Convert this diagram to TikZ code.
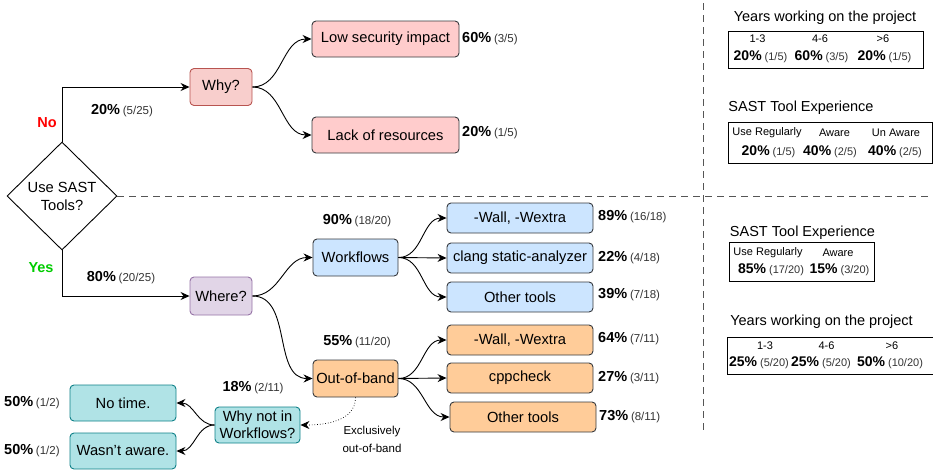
\documentclass[tikz,border=0pt]{standalone}
\usepackage{fontspec}
\setmainfont{Liberation Sans}
\usetikzlibrary{arrows.meta,shapes.geometric}
\definecolor{redfill}{HTML}{F8CECC}
\definecolor{redline}{HTML}{B85450}
\definecolor{pinkfill}{HTML}{FFCCCC}
\definecolor{boxline}{HTML}{36393D}
\definecolor{purfill}{HTML}{E1D5E7}
\definecolor{purline}{HTML}{9673A6}
\definecolor{bluefill}{HTML}{CCE5FF}
\definecolor{orfill}{HTML}{FFCC99}
\definecolor{tealfill}{HTML}{B0E3E6}
\definecolor{tealline}{HTML}{0E8088}
\definecolor{dashgray}{HTML}{555555}
\definecolor{fracgray}{HTML}{333333}
\newcommand{\pct}[2]{{\bfseries\fontsize{14.5}{16}\selectfont #1} {\color{fracgray}\fontsize{11.5}{13}\selectfont #2}}
\newcommand{\pctp}[2]{{\bfseries\fontsize{14}{16}\selectfont #1}\hspace{3pt}{\color{fracgray}\fontsize{11}{13}\selectfont #2}}
\tikzset{
  base/.style={draw, rounded corners=4pt, line width=0.9pt, font=\fontsize{14.7}{17}\selectfont, inner sep=0pt, align=center},
  redbox/.style={base, fill=redfill, draw=redline},
  pinkbox/.style={base, fill=pinkfill, draw=boxline, minimum width=147pt, minimum height=36pt},
  purbox/.style={base, fill=purfill, draw=purline},
  bluebox/.style={base, fill=bluefill, draw=boxline},
  orbox/.style={base, fill=orfill, draw=boxline},
  tealbox/.style={base, fill=tealfill, draw=tealline},
  leaf/.style={minimum width=146pt, minimum height=30pt},
  mid/.style={minimum width=85pt, minimum height=37pt},
  lbl/.style={anchor=west, inner sep=0pt},
  conn/.style={line width=0.9pt, -{Stealth[length=9pt,width=8pt,inset=3pt]}},
  sep/.style={dashgray, line width=0.7pt, dash pattern=on 7pt off 5pt},
  panel/.style={draw, line width=0.9pt},
  head/.style={font=\fontsize{14.5}{16}\selectfont, inner sep=0pt},
  colh/.style={font=\fontsize{11}{12}\selectfont, inner sep=0pt},
  val/.style={inner sep=0pt}
}
\begin{document}
\begin{tikzpicture}[x=1pt,y=-1pt]
\useasboundingbox (0,0) rectangle (933,471);
% separators
\coordinate (hsE) at (933,196);
\coordinate (vsT) at (703,3);
\coordinate (vsB) at (703,434);
% decision
\node[draw, diamond, line width=0.9pt, minimum width=110pt, minimum height=108pt, inner sep=0pt, align=center, font=\fontsize{14.7}{18}\selectfont] (dia) at (62,196) {Use SAST\\Tools?};
\draw[sep] (dia.east) -- (hsE);
\draw[sep] (vsT) -- (vsB);
\node[text=red, font=\bfseries\fontsize{14.5}{16}\selectfont] (no) at (47,123) {No};
\node[text={rgb,255:red,0;green,204;blue,0}, font=\bfseries\fontsize{14.5}{16}\selectfont] (yes) at (41,268) {Yes};
% No branch
\node[redbox, minimum width=62pt, minimum height=37pt] (why) at (221,87) {Why?};
\node[pinkbox] (low) at (385.5,39) {Low security impact};
\node[pinkbox] (lack) at (385.5,135) {Lack of resources};
\draw[conn] (dia.north) |- (why.west);
\node (p1) at (122,111) {\pct{20\%}{(5/25)}};
\draw[conn] (why.east) to[out=0,in=180] (low.west);
\draw[conn] (why.east) to[out=0,in=180] (lack.west);
\node[lbl] (l1) at (462,39) {\pct{60\%}{(3/5)}};
\node[lbl] (l2) at (462,133) {\pct{20\%}{(1/5)}};
% Yes branch
\node[purbox, minimum width=62pt, minimum height=38pt] (where) at (221,296) {Where?};
\draw[conn] (dia.south) |- (where.west);
\node (p2) at (121,278) {\pct{80\%}{(20/25)}};
\node[bluebox, mid] (wf) at (355.5,257.5) {Workflows};
\node[orbox, mid] (oob) at (355.5,378.5) {Out-of-band};
\draw[conn] (where.east) to[out=0,in=180] (wf.west);
\draw[conn] (where.east) to[out=0,in=180] (oob.west);
\node (p3) at (357,221) {\pct{90\%}{(18/20)}};
\node (p4) at (357,342) {\pct{55\%}{(11/20)}};
% workflows leaves
\node[bluebox, leaf] (b1) at (520,218) {-Wall, -Wextra};
\node[bluebox, leaf] (b2) at (520,258) {clang static-analyzer};
\node[bluebox, leaf] (b3) at (520,297) {Other tools};
\draw[conn] (wf.east) to[out=0,in=180] (b1.west);
\draw[conn] (wf.east) -- (b2.west);
\draw[conn] (wf.east) to[out=0,in=180] (b3.west);
\node[lbl] (lb1) at (598,217) {\pct{89\%}{(16/18)}};
\node[lbl] (lb2) at (598,258) {\pct{22\%}{(4/18)}};
\node[lbl] (lb3) at (598,295) {\pct{39\%}{(7/18)}};
% out-of-band leaves
\node[orbox, leaf] (o1) at (520,340) {-Wall, -Wextra};
\node[orbox, leaf] (o2) at (520,378) {cppcheck};
\node[orbox, leaf] (o3) at (523,417) {Other tools};
\draw[conn] (oob.east) to[out=0,in=180] (o1.west);
\draw[conn] (oob.east) -- (o2.west);
\draw[conn] (oob.east) to[out=0,in=180] (o3.west);
\node[lbl] (lo1) at (598,339) {\pct{64\%}{(7/11)}};
\node[lbl] (lo2) at (598,378) {\pct{27\%}{(3/11)}};
\node[lbl] (lo3) at (599,417) {\pct{73\%}{(8/11)}};
% why not in workflows
\node[tealbox, minimum width=85pt, minimum height=36pt, font=\fontsize{14.7}{17}\selectfont] (whynot) at (257.5,425) {Why not in\\Workflows?};
\draw[line width=0.7pt, dotted, -{Stealth[length=9pt,width=8pt,inset=3pt]}] (oob.south) to[out=-90,in=0] (whynot.east);
\node[align=center, font=\fontsize{11.5}{18}\selectfont] (excl) at (372,439) {Exclusively\\out-of-band};
\node (p5) at (253,388) {\pct{18\%}{(2/11)}};
\node[tealbox, minimum width=106pt, minimum height=36pt] (notime) at (123,403) {No time.};
\node[tealbox, minimum width=106pt, minimum height=36pt] (wasnt) at (123,451) {Wasn't aware.};
\draw[conn] (whynot.west) to[out=180,in=0] (notime.east);
\draw[conn] (whynot.west) to[out=180,in=0] (wasnt.east);
\node[lbl] (ln1) at (4,403) {\pct{50\%}{(1/2)}};
\node[lbl] (ln2) at (4,451) {\pct{50\%}{(1/2)}};
% right panels: No group
\node[head] (h1) at (825,18) {Years working on the project};
\node[panel, minimum width=195pt, minimum height=37pt] (pan1) at (825.5,49.5) {};
\node[colh] at (757.5,39) {1-3};
\node[colh] at (820,39) {4-6};
\node[colh] at (883,39) {>6};
\node[val] at (760.5,57) {\pctp{20\%}{(1/5)}};
\node[val] at (821.5,57) {\pctp{60\%}{(3/5)}};
\node[val] at (884.5,57) {\pctp{20\%}{(1/5)}};
\node[head] (h2) at (801,108) {SAST Tool Experience};
\node[panel, minimum width=204pt, minimum height=41pt] (pan2) at (830,142.5) {};
\node[colh] at (767,133) {Use Regularly};
\node[colh] at (834.5,133) {Aware};
\node[colh] at (896,133) {Un Aware};
\node[val] at (768.5,152) {\pctp{20\%}{(1/5)}};
\node[val] at (830,152) {\pctp{40\%}{(2/5)}};
\node[val] at (895,152) {\pctp{40\%}{(2/5)}};
% right panels: Yes group
\node[head] (h3) at (802.5,233) {SAST Tool Experience};
\node[panel, minimum width=145pt, minimum height=39pt] (pan3) at (801.5,261.5) {};
\node[colh] at (768,253) {Use Regularly};
\node[colh] at (838,253) {Aware};
\node[val] at (771,270) {\pctp{85\%}{(17/20)}};
\node[val] at (839.5,270) {\pctp{15\%}{(3/20)}};
\node[head] (h4) at (821.5,322) {Years working on the project};
\node[panel, minimum width=206pt, minimum height=37pt] (pan4) at (830,355.5) {};
\node[colh] at (765,346) {1-3};
\node[colh] at (826.5,346) {4-6};
\node[colh] at (892,346) {>6};
\node[val] at (759,363) {\pctp{25\%}{(5/20)}};
\node[val] at (821,363) {\pctp{25\%}{(5/20)}};
\node[val] at (890,363) {\pctp{50\%}{(10/20)}};
\end{tikzpicture}
\end{document}
